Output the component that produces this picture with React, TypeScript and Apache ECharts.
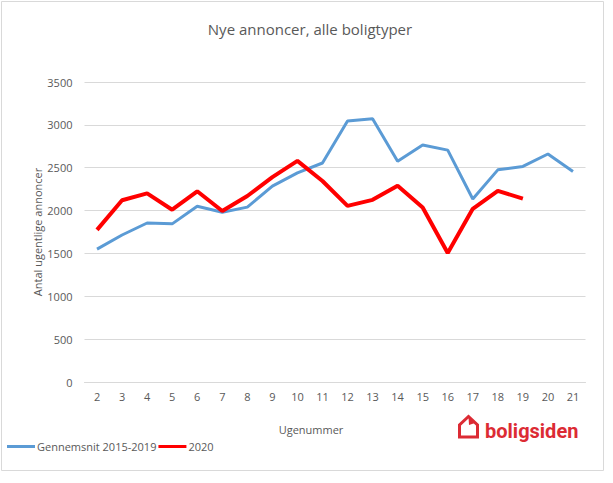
import React, { useEffect, useRef } from "react";
import * as echarts from "echarts";

const weeks = ["2", "3", "4", "5", "6", "7", "8", "9", "10", "11", "12", "13", "14", "15", "16", "17", "18", "19", "20", "21"];
const avg2015_2019 = [1550, 1715, 1855, 1845, 2050, 1980, 2040, 2285, 2440, 2555, 3045, 3070, 2575, 2765, 2705, 2135, 2475, 2515, 2660, 2455];
const y2020 = [1775, 2120, 2200, 2010, 2225, 1995, 2170, 2390, 2580, 2345, 2055, 2125, 2290, 2035, 1505, 2020, 2230, 2140];
const seriesNames = ["Gennemsnit 2015-2019", "2020"];

const FONT = "'Open Sans', 'Noto Sans', sans-serif";
const GREY = "#595959";

export default function App() {
  const ref = useRef<HTMLDivElement>(null);
  useEffect(() => {
    if (!ref.current) return;
    const chart = echarts.init(ref.current, null, { renderer: "svg" });
    chart.setOption({
      animation: false,
      backgroundColor: "#ffffff",
      title: {
        text: "Nye annoncer, alle boligtyper",
        left: 305,
        top: 16,
        textAlign: "center",
        textStyle: { fontFamily: FONT, fontSize: 15, fontWeight: "normal", color: GREY },
      },
      grid: { left: 84.5, right: 27.5, top: 82, bottom: 101 },
      legend: {
        left: 7,
        top: 441,
        padding: 0,
        itemWidth: 28,
        itemHeight: 3,
        itemGap: 2,
        icon: "rect",
        data: seriesNames,
        textStyle: { fontFamily: FONT, fontSize: 11, color: GREY, padding: [0, 0, 0, -3] },
      },
      xAxis: {
        type: "category",
        data: weeks,
        boundaryGap: true,
        axisLine: { show: true, lineStyle: { color: "#d9d9d9" } },
        axisTick: { show: false },
        axisLabel: { margin: 9, fontFamily: FONT, fontSize: 11, color: GREY },
      },
      yAxis: {
        type: "value",
        min: 0,
        max: 3500,
        interval: 500,
        axisLine: { show: false },
        axisTick: { show: false },
        axisLabel: { margin: 12, fontFamily: FONT, fontSize: 11, color: GREY, formatter: (v: number) => String(v) },
        splitLine: { lineStyle: { color: "#d9d9d9" } },
      },
      series: [
        {
          name: seriesNames[0],
          type: "line",
          data: avg2015_2019,
          symbol: "none",
          lineStyle: { color: "#5b9bd5", width: 3 },
          itemStyle: { color: "#5b9bd5" },
          z: 2,
        },
        {
          name: seriesNames[1],
          type: "line",
          data: y2020,
          symbol: "none",
          lineStyle: { color: "#ff0000", width: 4 },
          itemStyle: { color: "#ff0000" },
          z: 3,
        },
      ],
      graphic: [
        {
          type: "rect",
          shape: { x: 1.5, y: 1.5, width: 602, height: 469 },
          style: { fill: "none", stroke: "#d9d9d9", lineWidth: 1 },
          silent: true,
        },
        {
          type: "text",
          x: 311,
          y: 429,
          style: { text: "Ugenummer", fontFamily: FONT, fontSize: 11, fill: GREY, align: "center", verticalAlign: "middle" },
        },
        {
          type: "text",
          x: 37,
          y: 232,
          rotation: Math.PI / 2,
          style: { text: "Antal ugentlige annoncer", fontFamily: FONT, fontSize: 11, fill: GREY, align: "center", verticalAlign: "middle" },
        },
        {
          type: "polygon",
          shape: { points: [[459.5, 437], [459.5, 425], [468.5, 416.5], [477.5, 425], [477.5, 437]] },
          style: { fill: "none", stroke: "#dc2b34", lineWidth: 3, lineJoin: "miter" },
        },
        {
          type: "polygon",
          shape: { points: [[468.5, 417], [475, 423], [469, 425]] },
          style: { fill: "#dc2b34" },
        },
        {
          type: "text",
          x: 485,
          y: 431,
          style: { text: "boligsiden", fontFamily: "Roboto, sans-serif", fontWeight: "bold", fontSize: 20, fill: "#dc2b34", align: "left", verticalAlign: "middle" },
        },
      ],
    });
    return () => chart.dispose();
  }, []);
  return <div ref={ref} style={{ position: "absolute", left: 0, top: 0, width: 613, height: 483 }} />;
}
